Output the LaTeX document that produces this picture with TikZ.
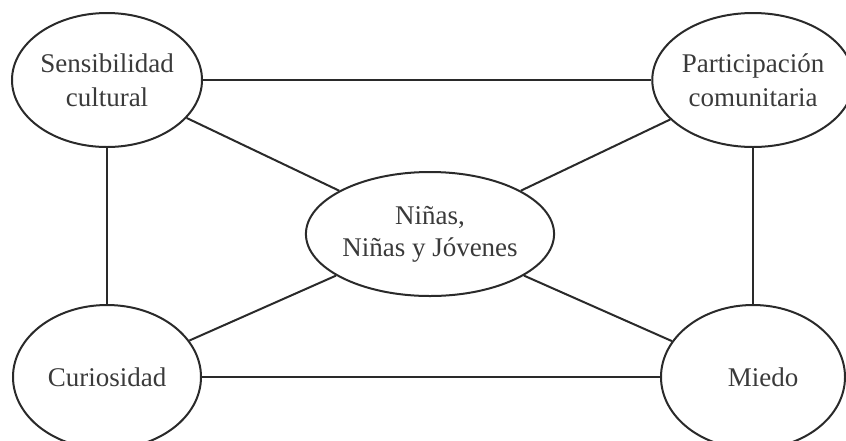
\documentclass[tikz,border=0pt]{standalone}
\usepackage{fontspec}
\setmainfont{Liberation Serif}
\usetikzlibrary{shapes.geometric}
\definecolor{ink}{HTML}{2A2A2A}
\definecolor{txt}{HTML}{3A3A3A}
\begin{document}
\begin{tikzpicture}[x=1pt,y=-1pt,
  oval/.style={ellipse,draw=ink,line width=2pt,inner sep=0pt,align=center,
    text=txt,font=\fontsize{27}{34}\selectfont},
  link/.style={draw=ink,line width=2pt}]
\useasboundingbox (0,0) rectangle (846,440);
\node[oval,minimum width=190,minimum height=134] (s) at (107,80) {Sensibilidad\\cultural};
\node[oval,minimum width=184,minimum height=134] (p) at (753,80) {Participación\\comunitaria};
\node[oval,minimum width=236,minimum height=124] (n) at (430,234) {\raisebox{8pt}{\begin{tabular}{@{}c@{}}Niñas,\\[-2pt]Niñas y Jóvenes\end{tabular}}};
\node[oval,minimum width=188,minimum height=144] (c) at (107,377) {Curiosidad};
\node[oval,minimum width=184,minimum height=144] (m) at (753,377) {\hspace{20pt}Miedo};
\draw[link] (s) -- (p);
\draw[link] (c) -- (m);
\draw[link] (s) -- (c);
\draw[link] (p) -- (m);
\draw[link] (s) -- (n);
\draw[link] (p) -- (n);
\draw[link] (c) -- (n);
\draw[link] (m) -- (n);
\end{tikzpicture}
\end{document}
